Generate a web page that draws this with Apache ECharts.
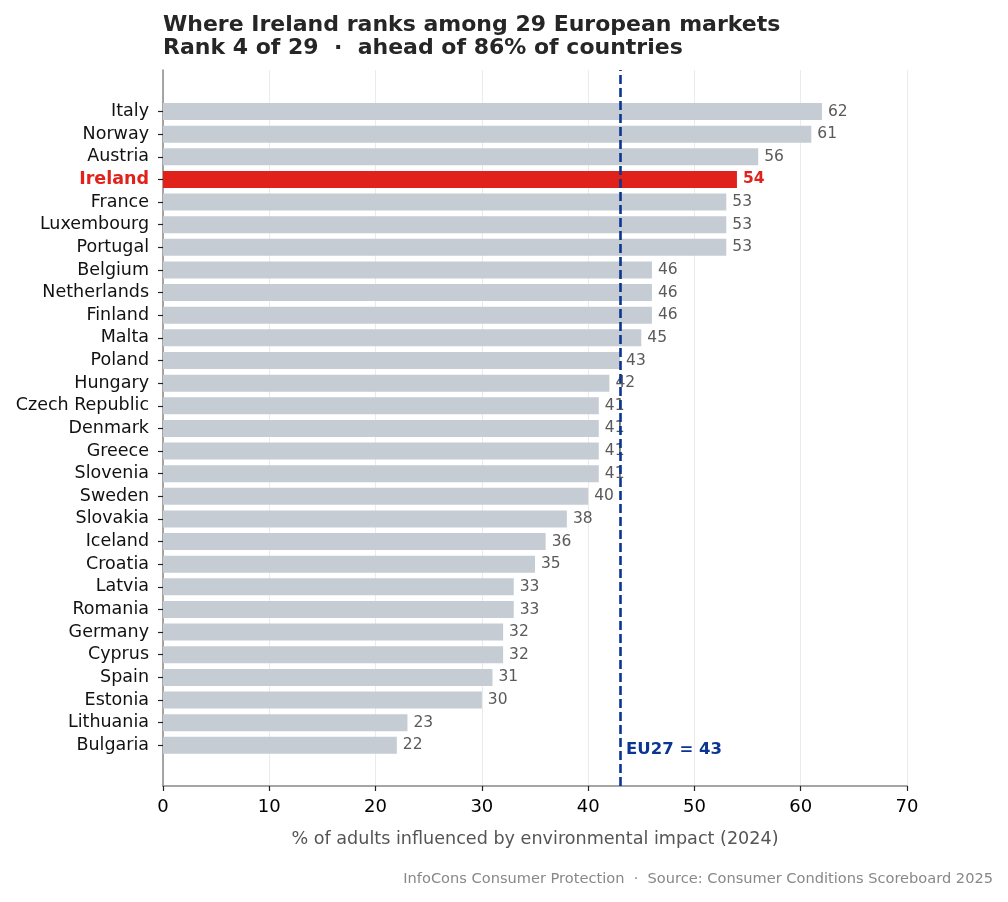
<!DOCTYPE html>
<html>
<head>
<meta charset="utf-8">
<script src="https://cdn.jsdelivr.net/npm/echarts@6/dist/echarts.min.js"></script>
<style>html,body{margin:0;padding:0;background:#fff;}#c{width:1008px;height:902px;}</style>
</head>
<body>
<div id="c"></div>
<script>
var countries = ["Italy","Norway","Austria","Ireland","France","Luxembourg","Portugal","Belgium","Netherlands","Finland","Malta","Poland","Hungary","Czech Republic","Denmark","Greece","Slovenia","Sweden","Slovakia","Iceland","Croatia","Latvia","Romania","Germany","Cyprus","Spain","Estonia","Lithuania","Bulgaria"];
var values = [62,61,56,54,53,53,53,46,46,46,45,43,42,41,41,41,41,40,38,36,35,33,33,32,32,31,30,23,22];
var highlight = "Ireland";
var euAverage = 43;
var xTicks = [0,10,20,30,40,50,60,70];

var FONT = "DejaVu Sans";
var chart = echarts.init(document.getElementById('c'), null, {renderer:'canvas'});

var barData = countries.map(function(c, i){
  if (c === highlight) {
    return {value: values[i], itemStyle:{color:'#e0221b'},
      label:{color:'#e0221b', fontWeight:'bold'}};
  }
  return {value: values[i]};
});

var option = {
  animation: false,
  backgroundColor: '#fff',
  title: [{
    text: 'Where Ireland ranks among 29 European markets\nRank 4 of 29  \u00b7  ahead of 86% of countries',
    left: 163, top: 14, padding: 0,
    textStyle: {fontFamily: FONT, fontSize: 22, fontWeight: 'bold', color: '#262626', lineHeight: 23}
  }, {
    text: 'InfoCons Consumer Protection  \u00b7  Source: Consumer Conditions Scoreboard 2025',
    right: 15, top: 872, padding: 0,
    textStyle: {fontFamily: FONT, fontSize: 14.6, fontWeight: 'normal', color: '#888888'}
  }],
  grid: [
    {left: 163, right: 101, top: 100.2, bottom: 145.4},
    {left: 163, right: 101, top: 70, bottom: 116}
  ],
  xAxis: [{
    gridIndex: 0, type: 'value', min: 0, max: 70, interval: 10, show: false
  }, {
    gridIndex: 1, type: 'value', min: xTicks[0], max: xTicks[xTicks.length-1], interval: 10,
    axisLine: {show: true, lineStyle: {color: '#888', width: 1.5}},
    axisTick: {show: true, length: 5, lineStyle: {color: '#222', width: 1.2}},
    axisLabel: {fontFamily: FONT, fontSize: 18, color: '#000', margin: 12},
    splitLine: {show: true, lineStyle: {color: '#ebebeb', width: 1}},
    name: '% of adults influenced by environmental impact (2024)',
    nameLocation: 'middle', nameGap: 44,
    nameTextStyle: {fontFamily: FONT, fontSize: 17.6, color: '#555'}
  }],
  yAxis: [{
    gridIndex: 0, type: 'category', data: countries, inverse: true,
    axisLine: {show: false},
    axisTick: {show: true, interval: 0, alignWithLabel: true, length: 5, lineStyle: {color: '#222', width: 1.2}},
    axisLabel: {
      interval: 0, hideOverlap: false,
      fontFamily: FONT, fontSize: 17.5, color: '#111', margin: 14,
      formatter: function(v){ return v === highlight ? '{h|' + v + '}' : v; },
      rich: {h: {fontFamily: FONT, fontSize: 17.5, color: '#e0221b', fontWeight: 'bold'}}
    },
    splitLine: {show: false}
  }, {
    gridIndex: 1, type: 'value', min: 0, max: 1,
    axisLine: {show: true, lineStyle: {color: '#888', width: 1.5}},
    axisTick: {show: false}, axisLabel: {show: false}, splitLine: {show: false}
  }],
  series: [{
    type: 'bar', xAxisIndex: 0, yAxisIndex: 0,
    data: barData, barWidth: 17,
    itemStyle: {color: '#c6ccd4'},
    label: {show: true, position: 'right', distance: 6,
      fontFamily: FONT, fontSize: 15.5, color: '#5a5a5a'},
    z: 2
  }, {
    type: 'scatter', xAxisIndex: 1, yAxisIndex: 1,
    data: [[euAverage, 0.05]], symbolSize: 0,
    itemStyle: {opacity: 1},
    label: {show: true, position: 'right', distance: 6,
      formatter: 'EU27 = ' + euAverage,
      fontFamily: FONT, fontSize: 16.5, fontWeight: 'bold', color: '#0a3591'},
    markLine: {
      silent: true, symbol: 'none',
      label: {show: false},
      lineStyle: {color: '#0a3591', width: 2.6, type: [9, 4]},
      data: [{xAxis: euAverage}]
    },
    z: 10
  }]
};
chart.setOption(option);
</script>
</body>
</html>
